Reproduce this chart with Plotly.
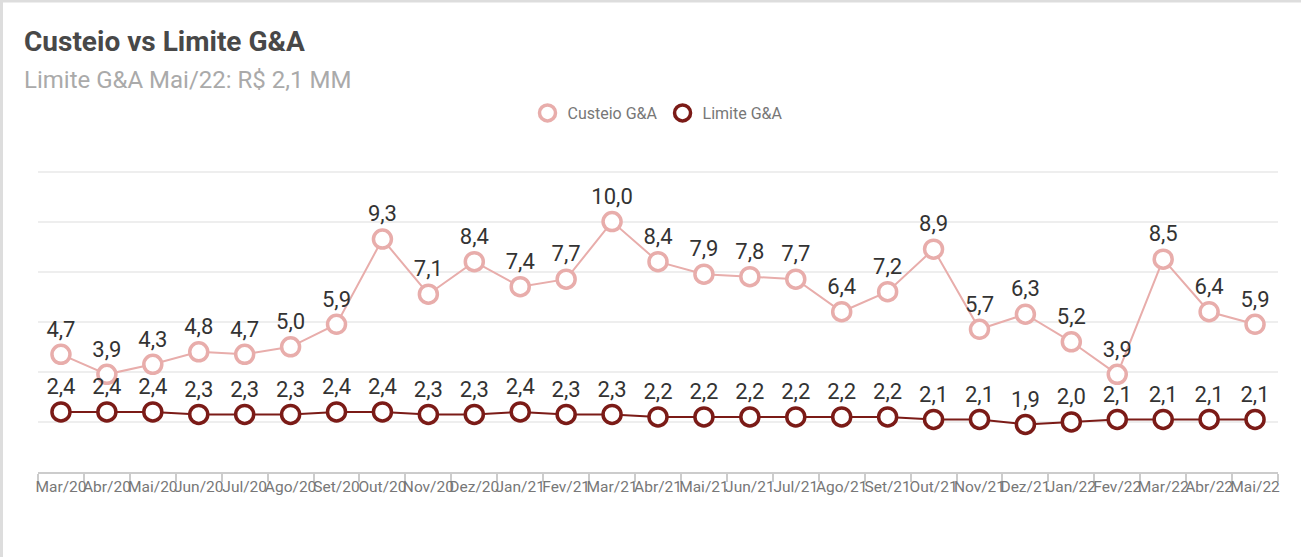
import plotly.graph_objects as go

months = ["Mar/20", "Abr/20", "Mai/20", "Jun/20", "Jul/20", "Ago/20", "Set/20", "Out/20",
          "Nov/20", "Dez/20", "Jan/21", "Fev/21", "Mar/21", "Abr/21", "Mai/21", "Jun/21",
          "Jul/21", "Ago/21", "Set/21", "Out/21", "Nov/21", "Dez/21", "Jan/22", "Fev/22",
          "Mar/22", "Abr/22", "Mai/22"]
custeio = [4.7, 3.9, 4.3, 4.8, 4.7, 5.0, 5.9, 9.3, 7.1, 8.4, 7.4, 7.7, 10.0, 8.4, 7.9, 7.8,
           7.7, 6.4, 7.2, 8.9, 5.7, 6.3, 5.2, 3.9, 8.5, 6.4, 5.9]
limite = [2.4, 2.4, 2.4, 2.3, 2.3, 2.3, 2.4, 2.4, 2.3, 2.3, 2.4, 2.3, 2.3, 2.2, 2.2, 2.2,
          2.2, 2.2, 2.2, 2.1, 2.1, 1.9, 2.0, 2.1, 2.1, 2.1, 2.1]
grid_vals = [0, 2, 4, 6, 8, 10, 12]

C_COL = "#e8adab"
L_COL = "#7b1b17"
FONT = "Roboto"

fig = go.Figure()
for name, vals, col in [("Custeio G&A", custeio, C_COL), ("Limite G&A", limite, L_COL)]:
    fig.add_trace(go.Scatter(
        x=months, y=vals, mode="lines+markers+text", name=name, showlegend=False,
        line=dict(color=col, width=2),
        marker=dict(size=18, color="white", line=dict(color=col, width=3.5)),
        texttemplate="%{y:.1f}", textposition="top center",
        textfont=dict(family=FONT, size=22, color="#333333"),
        cliponaxis=False, hoverinfo="skip"))
for name, col in [("Custeio G&A", C_COL), ("Limite G&A", L_COL)]:
    fig.add_trace(go.Scatter(
        x=[None], y=[None], mode="markers", name=name,
        marker=dict(size=16, color="white", line=dict(color=col, width=3.5))))

W, H = 1301, 557
L, R, T, B = 38, 23, 164, 85
pw, ph = W - L - R, H - T - B

def px(x):
    return (x - L) / pw

def py(y):
    return (H - B - y) / ph

fig.update_layout(
    width=W, height=H, separators=",.",
    margin=dict(l=L, r=R, t=T, b=B),
    paper_bgcolor="white", plot_bgcolor="white",
    font=dict(family=FONT, color="#777777"),
    showlegend=True,
    legend=dict(orientation="h", x=0.5, xanchor="center", y=py(113), yanchor="middle",
                font=dict(family=FONT, size=16, color="#777777"), itemwidth=30,
                traceorder="normal"),
    xaxis=dict(type="category", range=[-0.5, len(months) - 0.5], showgrid=False,
               showline=True, linecolor="#cccccc", linewidth=1.5,
               ticks="outside", tickson="boundaries", ticklen=8, tickcolor="#cccccc",
               tickwidth=1.5, tickangle=0,
               tickfont=dict(family=FONT, size=15.5, color="#777777"),
               zeroline=False),
    yaxis=dict(range=[0, 12.3], tickvals=grid_vals, showticklabels=False,
               showgrid=True, gridcolor="#eeeeee", gridwidth=1.5, zeroline=False,
               showline=False),
    annotations=[
        dict(text="<b>Custeio vs Limite G&A</b>", xref="paper", yref="paper",
             x=px(22), y=py(41), xanchor="left", yanchor="middle", showarrow=False,
             font=dict(family=FONT, size=28, color="#484848")),
        dict(text="Limite G&A Mai/22: R$ 2,1 MM", xref="paper", yref="paper",
             x=px(22), y=py(80), xanchor="left", yanchor="middle", showarrow=False,
             font=dict(family=FONT, size=24, color="#aaaaaa")),
    ],
    shapes=[
        dict(type="line", xref="paper", yref="paper", x0=px(1.5), x1=px(1.5),
             y0=py(0), y1=py(H), line=dict(color="#dddddd", width=3)),
        dict(type="line", xref="paper", yref="paper", x0=px(0), x1=px(W),
             y0=py(1), y1=py(1), line=dict(color="#dddddd", width=3)),
    ],
)

fig.write_html("out.html", config={"displayModeBar": False},
               post_script="document.body.style.margin='0px';")
